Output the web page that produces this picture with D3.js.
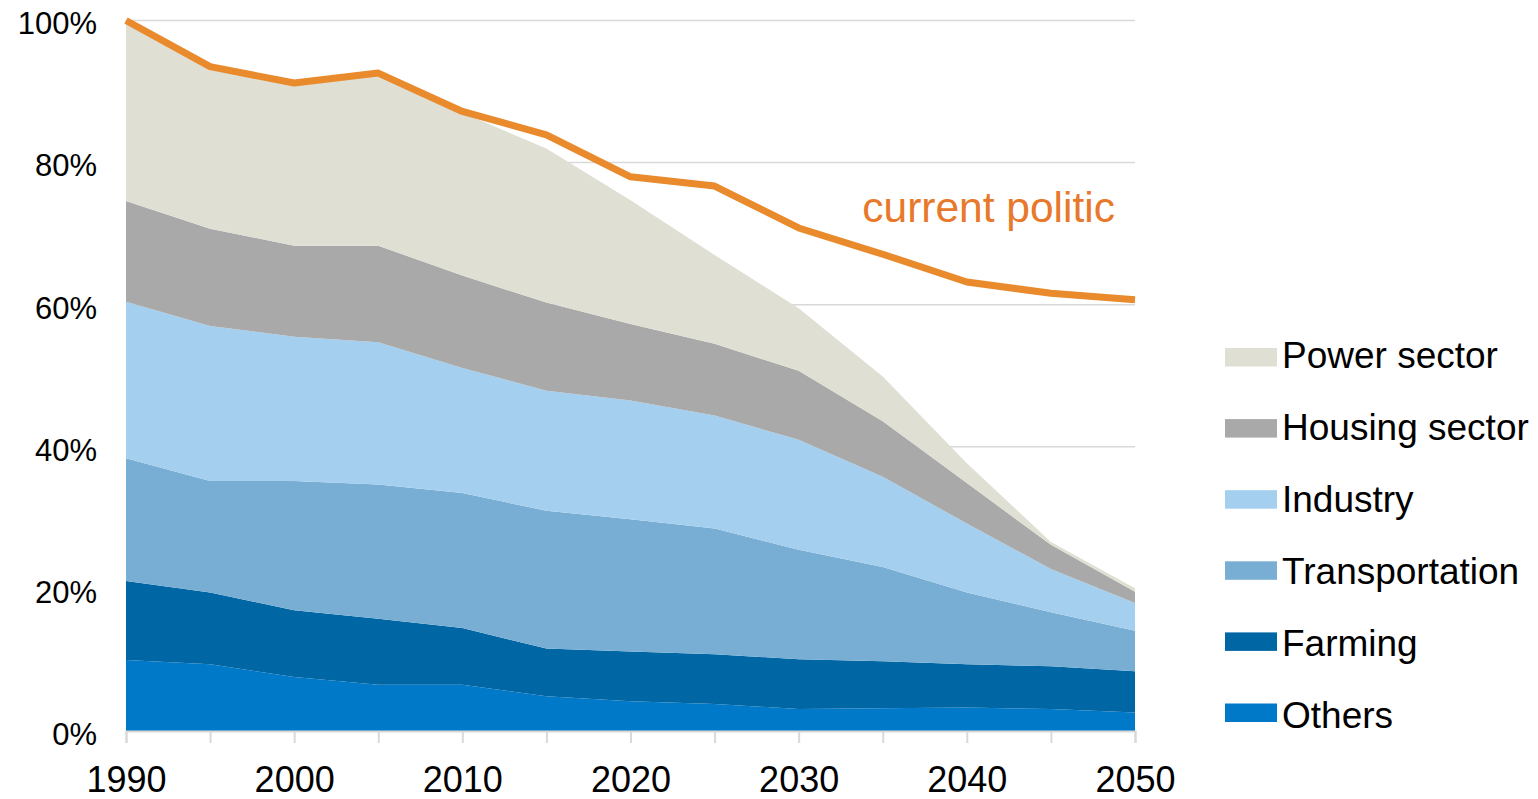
<!DOCTYPE html>
<html>
<head>
<meta charset="utf-8">
<script src="https://cdn.jsdelivr.net/npm/d3@7"></script>
<style>
  html, body { margin: 0; padding: 0; background: #fff; }
  svg { display: block; font-family: "Liberation Sans", Arial, sans-serif; }
</style>
</head>
<body>
<svg id="chart" width="1538" height="799"></svg>
<script>
const years = [1990, 1995, 2000, 2005, 2010, 2015, 2020, 2025, 2030, 2035, 2040, 2045, 2050];
const others = [10.0, 9.4, 7.6, 6.5, 6.5, 4.9, 4.2, 3.8, 3.1, 3.2, 3.3, 3.1, 2.6];
const farming = [11.1, 10.1, 9.4, 9.3, 8.0, 6.7, 7.0, 7.0, 7.0, 6.6, 6.1, 6.0, 5.8];
const transportation = [17.3, 15.7, 18.2, 18.9, 19.0, 19.4, 18.6, 17.7, 15.4, 13.3, 10.1, 7.6, 5.7];
const industry = [22.0, 21.8, 20.3, 20.0, 17.6, 16.9, 16.7, 15.9, 15.5, 12.7, 9.7, 6.1, 3.9];
const housing = [14.2, 13.7, 12.8, 13.6, 13.0, 12.4, 10.8, 10.1, 9.7, 7.8, 5.7, 3.4, 1.6];
const power = [24.9, 22.6, 22.7, 24.1, 22.9, 21.7, 17.4, 12.5, 8.8, 6.3, 2.8, 0.4, 0.5];
const currentPolitic = [100, 93.5, 91.2, 92.6, 87.2, 83.9, 78.0, 76.7, 70.8, 67.1, 63.2, 61.6, 60.7];

const seriesNames = ["Others", "Farming", "Transportation", "Industry", "Housing sector", "Power sector"];
const seriesValues = [others, farming, transportation, industry, housing, power];
const seriesColors = ["#0079c9", "#0066a4", "#78aed3", "#a4cfee", "#a9a9a9", "#e0dfd4"];
const yTicks = [0, 20, 40, 60, 80, 100];
const xTicks = years;
const xLabels = [1990, 2000, 2010, 2020, 2030, 2040, 2050];
const lineLabel = "current politic";

const table = years.map((yr, i) => {
  const row = { year: yr };
  seriesNames.forEach((n, k) => row[n] = seriesValues[k][i]);
  return row;
});

const svg = d3.select("#chart");
const x = d3.scaleLinear().domain([1990, 2050]).range([126, 1135]);
const y = d3.scaleLinear().domain([0, 100]).range([731, 20.5]);
const color = d3.scaleOrdinal().domain(seriesNames).range(seriesColors);

// gridlines
svg.append("g").selectAll("line")
  .data(yTicks.filter(t => t > 0))
  .join("line")
  .attr("x1", x(1990)).attr("x2", x(2050))
  .attr("y1", d => y(d)).attr("y2", d => y(d))
  .attr("stroke", "#d9d9d9").attr("stroke-width", 1.5);

// stacked areas
const stacked = d3.stack().keys(seriesNames)(table);
const area = d3.area()
  .x(d => x(d.data.year))
  .y0(d => y(d[0]))
  .y1(d => y(d[1]));
svg.append("g").selectAll("path")
  .data(stacked)
  .join("path")
  .attr("fill", d => color(d.key))
  .attr("d", area);

// x axis
const xAxis = d3.axisBottom(x)
  .tickValues(xTicks)
  .tickSize(12)
  .tickPadding(23)
  .tickFormat(d => xLabels.includes(d) ? String(d) : "");
const gx = svg.append("g").attr("transform", `translate(0,${y(0)})`).call(xAxis);
gx.select(".domain").attr("stroke", "#d9d9d9").attr("stroke-width", 2);
gx.selectAll(".tick line").attr("stroke", "#d9d9d9").attr("stroke-width", 2);
gx.selectAll(".tick text").attr("fill", "#000").style("font-size", "36px")
  .style("font-family", "'Liberation Sans', Arial, sans-serif");

// y axis
const yAxis = d3.axisLeft(y)
  .tickValues(yTicks)
  .tickSize(0)
  .tickPadding(29)
  .tickFormat(d => d + "%");
const gy = svg.append("g").attr("transform", `translate(${x(1990)},0)`).call(yAxis);
gy.select(".domain").remove();
gy.selectAll(".tick text").attr("fill", "#000").attr("dy", "0.43em").style("font-size", "31px")
  .style("font-family", "'Liberation Sans', Arial, sans-serif");

// current politic line
const line = d3.line()
  .x((d, i) => x(years[i]))
  .y(d => y(d));
svg.append("path")
  .datum(currentPolitic)
  .attr("fill", "none")
  .attr("stroke", "#e98a2c")
  .attr("stroke-width", 7)
  .attr("stroke-linejoin", "round")
  .attr("d", line);

svg.append("text")
  .attr("x", x(2050) - 20)
  .attr("y", y(71.7))
  .attr("text-anchor", "end")
  .attr("fill", "#e8782a")
  .style("font-size", "42.5px")
  .text(lineLabel);

// legend
const legendOrder = seriesNames.slice().reverse();
const lg = svg.append("g");
lg.selectAll("rect")
  .data(legendOrder)
  .join("rect")
  .attr("x", 1225).attr("y", (d, i) => 348 + i * 71.1)
  .attr("width", 52).attr("height", 18.5)
  .attr("fill", d => color(d));
lg.selectAll("text")
  .data(legendOrder)
  .join("text")
  .attr("x", 1282).attr("y", (d, i) => 368 + i * 72)
  .attr("fill", "#000")
  .style("font-size", "37px")
  .text(d => d);
</script>
</body>
</html>
